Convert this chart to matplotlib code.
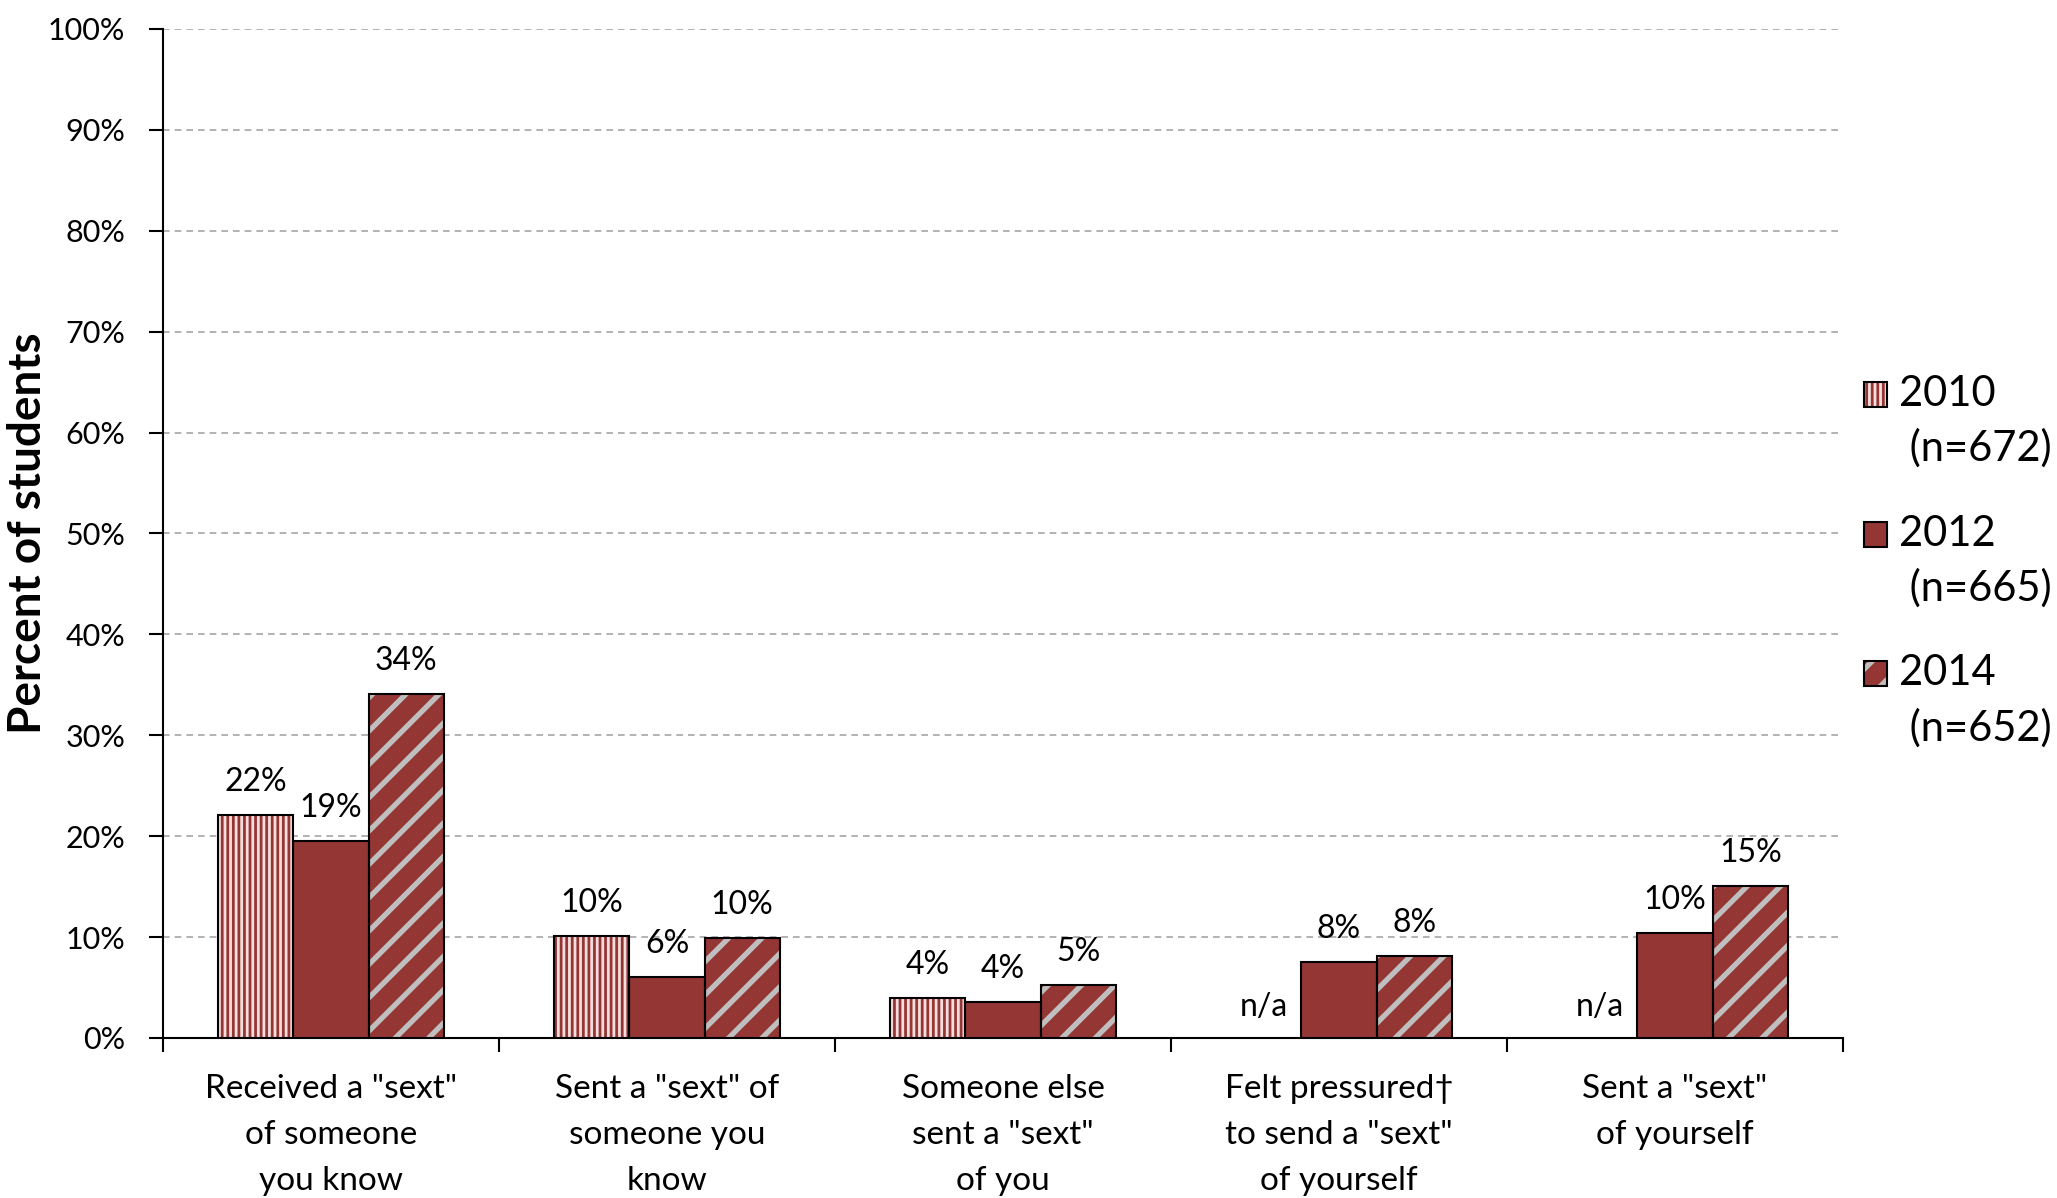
"""Sexting behaviours among students, 2010 / 2012 / 2014."""

import matplotlib
matplotlib.use("Agg")
import matplotlib.pyplot as plt
import numpy as np
from matplotlib.patches import Patch, Rectangle

plt.rcParams["font.family"] = ["Lato", "DejaVu Sans"]

categories = [
    'Received a "sext"\nof someone\nyou know',
    'Sent a "sext" of\nsomeone you\nknow',
    'Someone else\nsent a "sext"\nof you',
    'Felt pressured\u2020\nto send a "sext"\nof yourself',
    'Sent a "sext"\nof yourself',
]
years = ["2010\n (n=672)", "2012\n (n=665)", "2014\n (n=652)"]
# bar heights (percent), None = not asked that year
v2010 = [22.1, 10.1, 4.0, None, None]
v2012 = [19.5, 6.0, 3.6, 7.5, 10.4]
v2014 = [34.1, 9.9, 5.2, 8.1, 15.1]
# printed labels
l2010 = ["22%", "10%", "4%", "n/a", "n/a"]
l2012 = ["19%", "6%", "4%", "8%", "10%"]
l2014 = ["34%", "10%", "5%", "8%", "15%"]

RED = "#943634"
PINK = "#F4DDDC"
GREY = "#BFBFBF"


def hatch_lw(patch, lw):
    if hasattr(patch, "set_hatch_linewidth"):
        patch.set_hatch_linewidth(lw)


class TopHandler:
    """Square legend key aligned with the first line of a two-line label."""

    def __init__(self, shift):
        self.shift = shift

    def legend_artist(self, legend, orig_handle, fontsize, handlebox):
        w, h = handlebox.width, handlebox.height
        x0 = -handlebox.xdescent
        y0 = -handlebox.ydescent + self.shift
        last = None
        for p in orig_handle:
            r = Rectangle((x0, y0), w, h, transform=handlebox.get_transform())
            r.update_from(p)
            r.set_hatch(p.get_hatch())
            if hasattr(p, "get_hatch_linewidth"):
                hatch_lw(r, p.get_hatch_linewidth())
            handlebox.add_artist(r)
            last = r
        return last


fig = plt.figure(figsize=(20.57, 11.98), dpi=100)
ax = fig.add_axes([0.0792, 0.1336, 0.8168, 0.8422])

x = np.arange(len(categories))
w = 0.224
styles = [
    dict(face=RED, hatch="|||", hcol=PINK, hlw=2.0),
    dict(face=RED, hatch=None, hcol=RED, hlw=1.0),
    dict(face=RED, hatch="/", hcol=GREY, hlw=3.8),
]
plt.rcParams["hatch.linewidth"] = 2.5
series = [(v2010, l2010), (v2012, l2012), (v2014, l2014)]
handles = []
for i, ((vals, labs), st) in enumerate(zip(series, styles)):
    xs = x + (i - 1) * w
    h = [np.nan if v is None else v for v in vals]
    bars = ax.bar(xs, h, w, color=st["face"], edgecolor=st["hcol"],
                  hatch=st["hatch"], linewidth=0, zorder=3)
    for b in bars:
        hatch_lw(b, st["hlw"])
    ax.bar(xs, h, w, fill=False, edgecolor="black", linewidth=1.5, zorder=4)
    for xi, v, lab in zip(xs, vals, labs):
        if v is None:
            ax.text(xi, 3.1, lab, ha="center", va="center", fontsize=23)
        else:
            ax.annotate(lab, (xi, v), xytext=(0, 13), textcoords="offset points",
                        ha="center", va="bottom", fontsize=23)
    hp = Patch(facecolor=st["face"], edgecolor=st["hcol"], hatch=st["hatch"],
               linewidth=0)
    hatch_lw(hp, st["hlw"])
    op = Patch(fill=False, edgecolor="black", linewidth=1.5)
    handles.append((hp, op))

ax.set_xlim(-0.5, 4.5)
ax.set_ylim(0, 100)
ax.set_yticks(np.arange(0, 101, 10))
ax.set_yticklabels([f"{t}%" for t in range(0, 101, 10)], fontsize=22)
ax.yaxis.grid(True, color="#A6A6A6", linestyle=(0, (4, 3)), linewidth=1.2)
ax.set_axisbelow(True)
ax.tick_params(axis="y", length=10, width=1.5, pad=17)

ax.set_xticks(x)
ax.set_xticklabels(categories, fontsize=24, linespacing=1.66)
ax.set_xticks(np.arange(-0.5, 5, 1), minor=True)
ax.tick_params(axis="x", which="major", length=0, pad=26)
ax.tick_params(axis="x", which="minor", length=10, width=1.5)

for s in ["top", "right"]:
    ax.spines[s].set_visible(False)
for s in ["left", "bottom"]:
    ax.spines[s].set_linewidth(1.5)

ax.set_ylabel("Percent of students", fontsize=33, fontweight="bold")
ax.yaxis.set_label_coords(-0.068, 0.5)

leg = fig.legend(handles, years, handler_map={tuple: TopHandler(20)},
                 loc="upper left", bbox_to_anchor=(0.906, 0.687), frameon=False,
                 fontsize=30, handlelength=0.55, handleheight=0.55,
                 handletextpad=0.3, labelspacing=1.12, borderpad=0,
                 borderaxespad=0)
for t in leg.get_texts():
    t.set_linespacing(1.48)

fig.savefig("out.png", dpi=100)
